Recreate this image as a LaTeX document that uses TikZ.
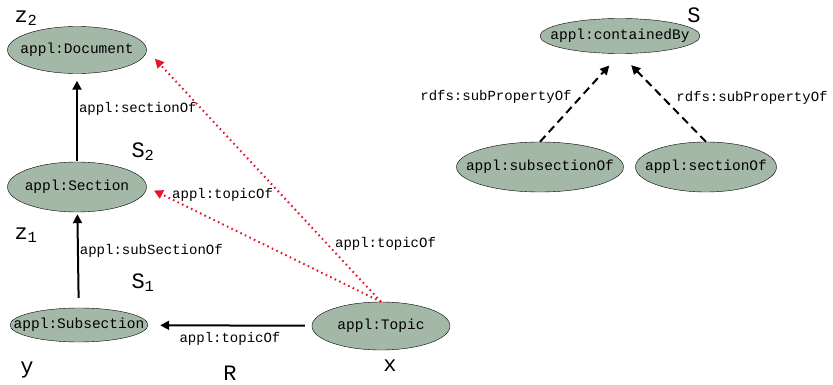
\documentclass[tikz,border=0pt]{standalone}
\usepackage{fontspec}
\newfontfamily\cour{Liberation Mono}
\usepackage{tikz}
\usetikzlibrary{positioning,calc,arrows.meta,shapes.geometric}
\tikzset{>={Triangle[length=9pt,width=9pt]}}
\definecolor{cls}{RGB}{164,184,168}
\definecolor{red1}{RGB}{230,20,45}
\tikzset{
  cls/.style={ellipse,draw,thin,fill=cls,inner xsep=-30pt,inner ysep=-4pt,font=\cour\fontsize{14.5}{16}\selectfont},
  lbl/.style={font=\cour\fontsize{14}{16}\selectfont,inner sep=1pt,text=black},
  var/.style={font=\cour\fontsize{22}{24}\selectfont,inner sep=0pt},
  topic/.style={->,red1,line width=2pt,dash pattern=on 1.6pt off 3.4pt},
}

\begin{document}
\begin{tikzpicture}[x=1pt,y=-1pt]
\useasboundingbox (0,0) rectangle (833,385);
% left part
\node[cls,minimum width=139pt,minimum height=47pt] (doc) at (77,50) {appl:Document};
\node[cls,minimum width=139pt,minimum height=50pt] (sec) at (77,187) {appl:Section};
\node[cls,minimum width=138pt,minimum height=34pt] (sub) at (79,325) {appl:Subsection};
\node[cls,minimum width=138pt,minimum height=48pt] (top) at (381,326) {appl:Topic};
\node[var] (z2) at (26,18) {z\textsubscript{2}};
\node[var] (s2) at (143,152) {S\textsubscript{2}};
\node[var] (z1) at (26,235) {z\textsubscript{1}};
\node[var] (s1) at (143,283) {S\textsubscript{1}};
\node[var] (y) at (27,370) {y};
\node[var] (r) at (230,373) {R};
\node[var] (x) at (390,366) {x};
\draw[->,line width=2pt,shorten <=1pt,shorten >=7pt] (sec) -- node[lbl,right,pos=.6] {appl:sectionOf} (doc);
\draw[->,line width=2pt,shorten <=10pt,shorten >=2pt] (sub) -- node[lbl,right,pos=.6] {appl:subSectionOf} (sec);
\draw[->,line width=2pt,shorten <=7pt,shorten >=12pt] (top) -- node[lbl,below=5pt] {appl:topicOf} (sub);
\draw[topic,shorten >=12pt] (top.north) -- node[lbl,right=6pt,pos=.23] {appl:topicOf} (doc.east);
\draw[topic,shorten >=8pt] (top.north) -- (sec.east);
\node[lbl,anchor=west] (tl) at (171,195) {appl:topicOf};
% right part
\node[cls,minimum width=160pt,minimum height=35pt] (cb) at (620,36) {appl:containedBy};
\node[cls,minimum width=167pt,minimum height=50pt] (subof) at (540,167) {appl:subsectionOf};
\node[cls,minimum width=141pt,minimum height=50pt] (secof) at (706,167) {appl:sectionOf};
\node[var] (s) at (694,15) {S};
\draw[->,line width=2pt,dash pattern=on 8pt off 5pt,shorten >=16pt] (subof.north) -- (cb.south);
\draw[->,line width=2pt,dash pattern=on 8pt off 5pt,shorten >=16pt] (secof.north) -- (cb.south);
\node[lbl] (sp1) at (496,97) {rdfs:subPropertyOf};
\node[lbl] (sp2) at (752,98) {rdfs:subPropertyOf};
\end{tikzpicture}
\end{document}
